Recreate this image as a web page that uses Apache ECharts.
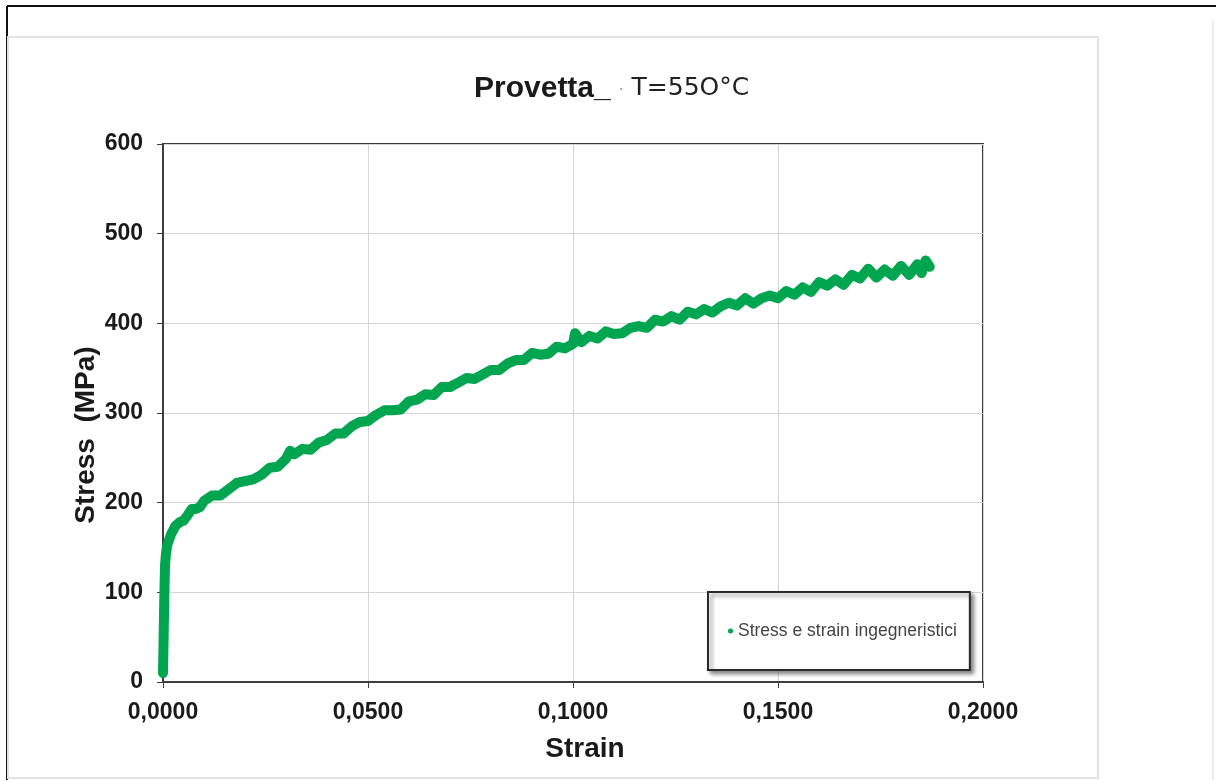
<!DOCTYPE html>
<html>
<head>
<meta charset="utf-8">
<script src="https://cdn.jsdelivr.net/npm/echarts@6/dist/echarts.min.js"></script>
<style>
html,body{margin:0;padding:0;background:#fff;}
#chart{width:1216px;height:780px;}
</style>
</head>
<body>
<div id="chart"></div>
<script>
// ---- data ----
const strain = [
  0.0000, 0.0001, 0.0002, 0.0003, 0.0004, 0.0005, 0.0007, 0.0010, 0.0015, 0.0020,
  0.0030, 0.0040, 0.0050, 0.0060, 0.0070, 0.0080, 0.0090, 0.0100, 0.0120, 0.0140,
  0.0160, 0.0180, 0.0200, 0.0220, 0.0240, 0.0260, 0.0280, 0.0300, 0.0310, 0.0320,
  0.0340, 0.0360, 0.0380, 0.0400, 0.0420, 0.0440, 0.0460, 0.0480, 0.0500, 0.0520,
  0.0540, 0.0560, 0.0580, 0.0600, 0.0620, 0.0640, 0.0660, 0.0680, 0.0700, 0.0720,
  0.0740, 0.0760, 0.0780, 0.0800, 0.0820, 0.0840, 0.0860, 0.0880, 0.0900, 0.0920,
  0.0940, 0.0960, 0.0980, 0.1000, 0.1005, 0.1020, 0.1040, 0.1060, 0.1080, 0.1100,
  0.1120, 0.1140, 0.1160, 0.1180, 0.1200, 0.1220, 0.1240, 0.1260, 0.1280, 0.1300,
  0.1320, 0.1340, 0.1360, 0.1380, 0.1400, 0.1420, 0.1440, 0.1460, 0.1480, 0.1500,
  0.1520, 0.1540, 0.1560, 0.1580, 0.1600, 0.1620, 0.1640, 0.1660, 0.1680, 0.1700,
  0.1720, 0.1740, 0.1760, 0.1780, 0.1800, 0.1820, 0.1840, 0.1850, 0.1860, 0.1870
];
const stress = [
  10, 36, 62, 90, 112, 130, 142, 152, 159, 165,
  174, 178, 180, 186, 193, 193, 195, 202, 208, 208,
  215, 222, 224, 226, 231, 239, 240, 249, 258, 254,
  260, 259, 267, 270, 277, 277, 285, 290, 291, 298,
  303, 303, 304, 313, 315, 321, 320, 329, 329, 334,
  339, 338, 343, 348, 348, 355, 359, 359, 367, 365,
  366, 374, 372, 377, 389, 379, 386, 383, 391, 388,
  389, 395, 397, 395, 404, 402, 408, 404, 413, 410,
  416, 412, 419, 423, 420, 428, 422, 428, 431, 428,
  436, 432, 440, 435, 446, 442, 449, 443, 454, 450,
  461, 451, 460, 453, 464, 454, 466, 456, 470, 463
];
const seriesName = 'Stress e strain ingegneristici';
const xTicks = { min: 0, max: 0.2, step: 0.05 };
const yTicks = { min: 0, max: 600, step: 100 };

const points = strain.map((s, i) => [s, stress[i]]);

const chart = echarts.init(document.getElementById('chart'), null, { renderer: 'canvas' });
const axisDark = '#3d3d3d';
const labelFont = { fontFamily: 'Liberation Sans, Arial, sans-serif', fontWeight: 'bold', fontSize: 23, color: '#1a1a1a' };

chart.setOption({
  animation: false,
  backgroundColor: '#ffffff',
  title: {
    text: '{a|Provetta_}{d|•}{b|T=55O°C}',
    left: 469,
    top: 69,
    textStyle: {
      fontWeight: 'normal',
      rich: {
        a: { fontFamily: 'Liberation Sans, Arial, sans-serif', fontWeight: 'bold', fontSize: 30, color: '#1a1a1a' },
        d: { fontSize: 8, color: '#e88080', padding: [0, 9, 0, 9] },
        b: { fontFamily: 'DejaVu Sans, sans-serif', fontWeight: 'normal', fontSize: 25, color: '#222222', padding: [0, 0, 1, 0] }
      }
    }
  },
  grid: {
    left: 163, top: 144, right: 233, bottom: 98,
    show: true, borderColor: axisDark, borderWidth: 2, backgroundColor: '#ffffff'
  },
  legend: {
    data: [{ name: seriesName, icon: 'circle' }],
    left: 708, top: 592,
    orient: 'vertical',
    itemWidth: 5, itemHeight: 5,
    padding: [30, 13, 30, 20],
    borderColor: '#2a2a2a', borderWidth: 2,
    backgroundColor: '#ffffff',
    shadowColor: 'rgba(0,0,0,0.45)', shadowBlur: 4, shadowOffsetX: 3, shadowOffsetY: 3,
    textStyle: { fontFamily: 'Liberation Sans, Arial, sans-serif', fontSize: 17.5, color: '#444444' },
    selectedMode: false
  },
  xAxis: {
    type: 'value',
    min: xTicks.min, max: xTicks.max, interval: xTicks.step,
    axisLine: { show: true, onZero: false, lineStyle: { color: axisDark, width: 2 } },
    axisTick: { show: true, inside: false, length: 6, lineStyle: { color: axisDark, width: 1 } },
    splitLine: { show: true, lineStyle: { color: '#d6d6d6', width: 1 } },
    axisLabel: Object.assign({ margin: 19, formatter: v => v.toFixed(4).replace('.', ',') }, labelFont)
  },
  yAxis: {
    type: 'value',
    min: yTicks.min, max: yTicks.max, interval: yTicks.step,
    axisLine: { show: true, onZero: false, lineStyle: { color: axisDark, width: 2 } },
    axisTick: { show: true, inside: false, length: 6, lineStyle: { color: axisDark, width: 1 } },
    splitLine: { show: true, lineStyle: { color: '#d6d6d6', width: 1 } },
    axisLabel: Object.assign({ margin: 20 }, labelFont)
  },
  graphic: [
    { type: 'line', z: -10, silent: true, shape: { x1: 7, y1: 6, x2: 1216, y2: 6 }, style: { stroke: '#111', lineWidth: 2 } },
    { type: 'line', z: -10, silent: true, shape: { x1: 7, y1: 6, x2: 7, y2: 780 }, style: { stroke: '#111', lineWidth: 2 } },
    { type: 'rect', z: -10, silent: true, shape: { x: 8, y: 37, width: 1090, height: 741 }, style: { fill: null, stroke: '#e2e2e2', lineWidth: 2 } },
    { type: 'line', z: -10, silent: true, shape: { x1: 1213, y1: 20, x2: 1213, y2: 780 }, style: { stroke: '#ececec', lineWidth: 2 } },
    { type: 'text', x: 585, y: 749, style: { text: 'Strain', fontFamily: 'Liberation Sans, Arial, sans-serif', fontWeight: 'bold', fontSize: 28, fill: '#1a1a1a', align: 'center', verticalAlign: 'middle' } },
    { type: 'text', x: 86, y: 435, rotation: Math.PI / 2, style: { text: 'Stress  (MPa)', fontFamily: 'Liberation Sans, Arial, sans-serif', fontWeight: 'bold', fontSize: 28, fill: '#1a1a1a', align: 'center', verticalAlign: 'middle' } }
  ],
  series: [{
    name: seriesName,
    type: 'line',
    data: points,
    showSymbol: false,
    symbol: 'circle',
    itemStyle: { color: '#00a550' },
    lineStyle: { color: '#00a550', width: 10, join: 'round', cap: 'round' },
    clip: true
  }]
});
</script>
</body>
</html>
